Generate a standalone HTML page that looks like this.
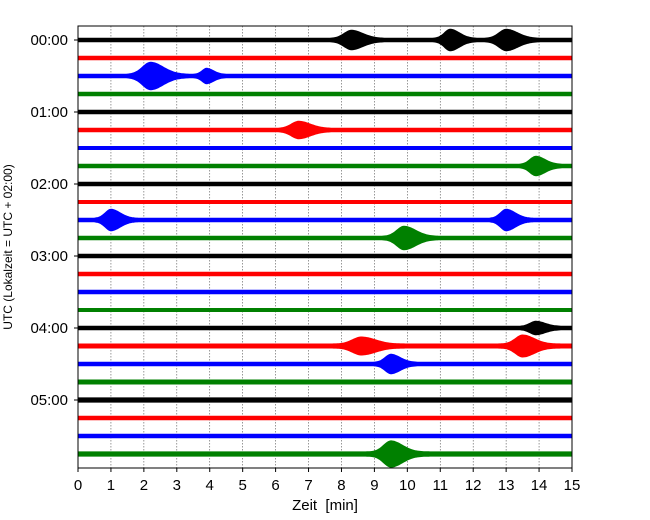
<!DOCTYPE html>
<html><head><meta charset="utf-8"><style>
body{margin:0;background:#fff}
svg{display:block;font-family:"Liberation Sans","DejaVu Sans",sans-serif}
</style></head><body>
<svg id="c" width="650" height="520" xmlns="http://www.w3.org/2000/svg">
<rect x="0" y="0" width="650" height="520" fill="#fff"/>
<g id="grid"></g><g id="traces"></g>
<rect x="78" y="26" width="494" height="442" fill="none" stroke="#000" stroke-width="1"/>
<g id="axes"></g>
<text x="325" y="510" font-size="15" text-anchor="middle" xml:space="preserve" style="white-space:pre">Zeit  [min]</text>
<text transform="translate(12,247) rotate(-90)" font-size="12" text-anchor="middle">UTC (Lokalzeit = UTC + 02:00)</text>
</svg>
<script>
const xTicks=[0,1,2,3,4,5,6,7,8,9,10,11,12,13,14,15];
const hourLabels=["00:00","01:00","02:00","03:00","04:00","05:00"];
const rowColors=["#000","red","blue","green"];
const rowCount=24;
const noiseAmp=[2.2,2.2,2.2,2.2,2.2,2.2,2,2.2,2.2,2,2.2,2.2,2.2,2.2,2.2,2,2.2,2.5,2.2,2.5,2.6,2.2,2.2,2.6];
const eventRow=[0,0,0,2,2,5,7,10,10,11,16,17,17,18,23];
const eventTime=[8.3,11.3,13.0,2.2,3.9,6.7,13.9,1.0,13.0,9.9,13.9,8.6,13.5,9.5,9.5];
const eventAmp=[8,9,9,12,6,7,8,9,9,10,5,7,9,8,11];
const eventWidth=[0.5,0.4,0.5,0.55,0.3,0.5,0.4,0.4,0.4,0.5,0.4,0.6,0.5,0.4,0.5];
const NS="http://www.w3.org/2000/svg";
const X0=78,X1=572,Y0=40,DY=18;
const xs=t=>X0+(t-0)/(15-0)*(X1-X0);
const ys=r=>Y0+r*DY;
function mk(tag,attrs,parent){const e=document.createElementNS(NS,tag);for(const k in attrs)e.setAttribute(k,attrs[k]);parent.appendChild(e);return e;}
const grid=document.getElementById('grid'),tr=document.getElementById('traces'),ax=document.getElementById('axes');
xTicks.forEach(t=>{
 const g=mk('line',{x1:xs(t),x2:xs(t),y1:26,y2:468,stroke:'#555','stroke-width':0.6,'stroke-dasharray':'1.5,1.5'},grid);
 
 
 const tk=mk('line',{x1:xs(t),x2:xs(t),y1:468,y2:472,stroke:'#000'},ax);
 
 
 const lb=mk('text',{x:xs(t),y:490,'font-size':15,'text-anchor':'middle'},ax);
 lb.textContent=t;
 
 
});
hourLabels.forEach((h,i)=>{
 const y=ys(i*4);
 const tk=mk('line',{x1:74,x2:78,y1:y,y2:y,stroke:'#000'},ax);
 
 
 const lb=mk('text',{x:68,y:y+5,'font-size':15,'text-anchor':'end'},ax);
 lb.textContent=h;
 
 
});
for(let r=0;r<rowCount;r++){
 const N=400;let top=[],bot=[];
 for(let i=0;i<=N;i++){
  const t=15*i/N;let a=noiseAmp[r];
  for(let k=0;k<eventRow.length;k++){if(eventRow[k]!==r)continue;
   const d=(t-eventTime[k])/eventWidth[k];
   a+=eventAmp[k]*Math.exp(-d*d*(d<0?2.5:1));}
  top.push(xs(t).toFixed(1)+','+(ys(r)-a).toFixed(1));
  bot.unshift(xs(t).toFixed(1)+','+(ys(r)+a).toFixed(1));
 }
 const p=mk('polygon',{points:top.concat(bot).join(' '),fill:rowColors[r%4]},tr);
 
 
}
</script>
</body></html>
